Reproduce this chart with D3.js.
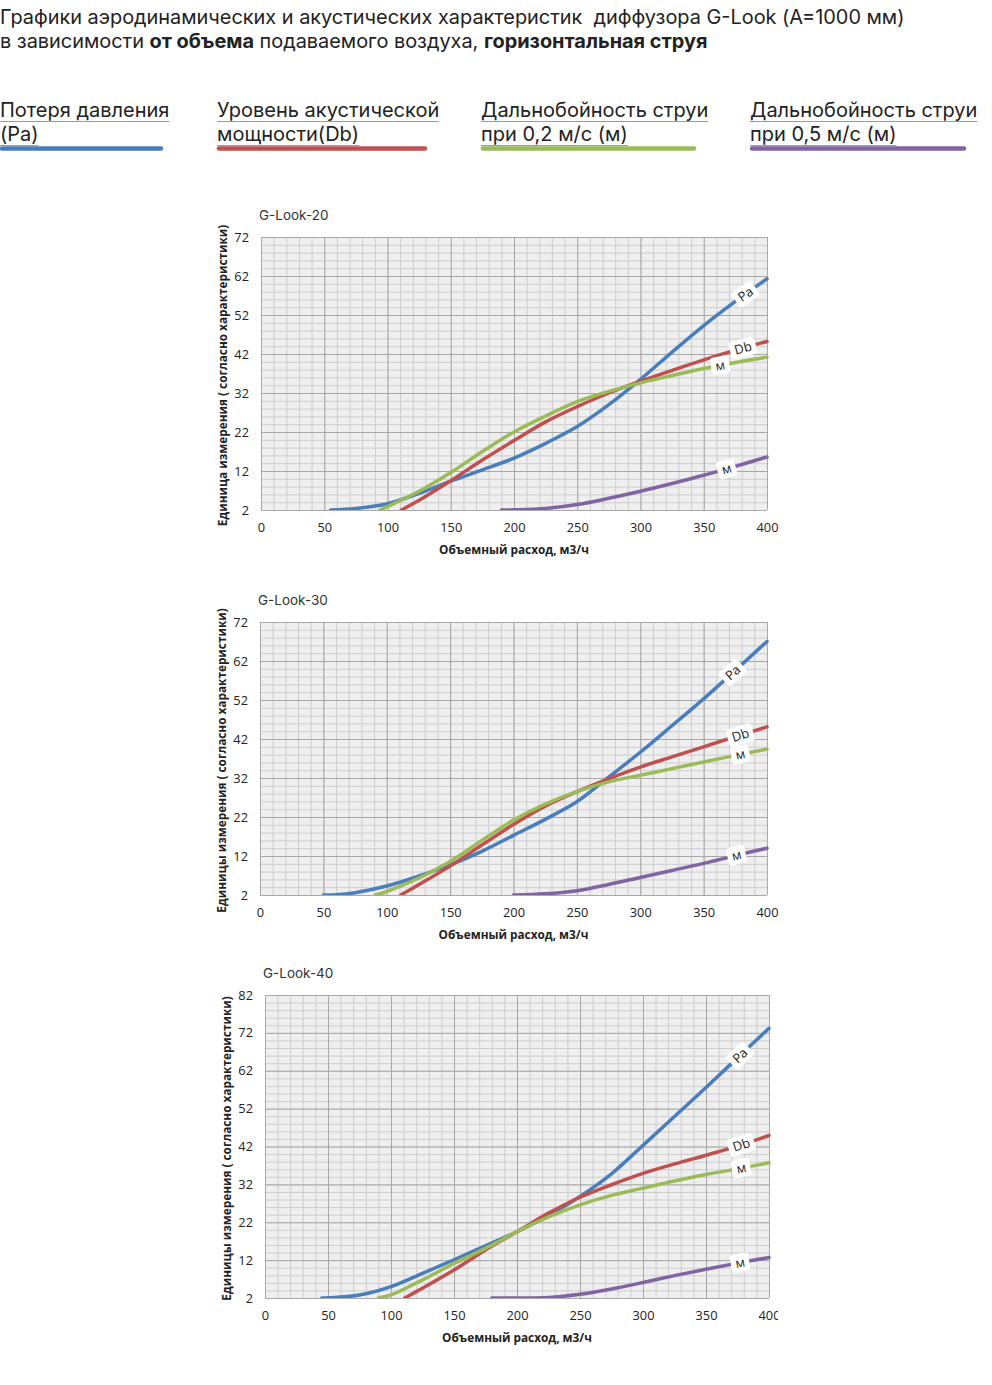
<!DOCTYPE html>
<html>
<head>
<meta charset="utf-8">
<script src="https://cdn.jsdelivr.net/npm/d3@7"></script>
<style>
  body { margin: 0; background: #fff; }
  svg { display: block; }
</style>
</head>
<body>
<div id="chart"></div>
<script>

// ---- data ----
var flowTicks   = [0, 50, 100, 150, 200, 250, 300, 350, 400];
var ticks72     = [2, 12, 22, 32, 42, 52, 62, 72];
var ticks82     = [2, 12, 22, 32, 42, 52, 62, 72, 82];

var legendNames = [["Потеря давления", "(Pa)"],
                   ["Уровень акустической", "мощности(Db)"],
                   ["Дальнобойность струи", "при 0,2 м/с (м)"],
                   ["Дальнобойность струи", "при 0,5 м/с (м)"]];
var curveLabels = ["Pa", "Db", "м", "м"];
var colors      = ["#4a7ebb", "#c0504d", "#9bbb59", "#8064a2"];

// G-Look-20  [flow m3/h, value]
var look20Pa  = [[55,2],[75,2.4],[100,3.6],[125,6.3],[150,9.4],[175,12.3],[200,15.3],[225,19.1],[250,23.4],[275,29],[300,35.5],[325,42.5],[350,49.3],[375,55.5],[400,61.3]];
var look20Db  = [[111,2],[125,4.5],[150,9.5],[175,14.8],[200,19.8],[225,24.6],[250,28.5],[275,32],[300,35],[325,37.8],[350,40.5],[375,43],[400,45.2]];
var look20M02 = [[94,2],[100,2.9],[125,6.8],[150,11.6],[175,17],[200,22],[225,26.1],[250,29.8],[275,32.4],[300,34.6],[325,36.5],[350,38.3],[375,39.8],[400,41.2]];
var look20M05 = [[190,2],[200,2.05],[225,2.4],[250,3.4],[275,5],[300,6.8],[325,8.8],[350,10.9],[375,13.2],[400,15.6]];

// G-Look-30
var look30Pa  = [[50,2],[60,2.05],[75,2.6],[100,4.3],[125,6.8],[150,9.7],[175,13.2],[200,17.3],[225,21.4],[250,25.9],[275,32.2],[300,38.6],[325,45.4],[350,52.3],[375,59.6],[400,67]];
var look30Db  = [[111,2],[125,4.6],[150,9.4],[175,14.8],[200,20.1],[225,24.8],[250,28.5],[275,31.8],[300,34.8],[325,37.4],[350,40],[375,42.6],[400,45.1]];
var look30M02 = [[91,2],[100,2.9],[125,6.3],[150,10.6],[175,16],[200,21.2],[225,25.3],[250,28.5],[275,31],[300,32.7],[325,34.4],[350,36.1],[375,37.8],[400,39.4]];
var look30M05 = [[200,2],[225,2.3],[250,3.1],[275,4.7],[300,6.5],[325,8.3],[350,10.1],[375,12.1],[400,14]];

// G-Look-40
var look40Pa  = [[45,2],[50,2.05],[75,2.8],[100,5],[125,8.5],[150,12.1],[175,15.8],[200,19.5],[225,23.8],[250,28.8],[275,34.8],[300,42.3],[325,49.9],[350,57.6],[375,65.4],[400,73.2]];
var look40Db  = [[111,2],[125,4.6],[150,9.4],[175,14.7],[200,19.5],[225,24.4],[250,28.6],[275,31.9],[300,34.9],[325,37.4],[350,39.7],[375,42.1],[400,44.9]];
var look40M02 = [[90,2],[100,2.8],[125,6.8],[150,11.1],[175,15.1],[200,19.5],[225,23.4],[250,26.6],[275,29.1],[300,31],[325,32.9],[350,34.6],[375,36.1],[400,37.7]];
var look40M05 = [[180,2],[200,2.02],[225,2.15],[250,3],[275,4.4],[300,6.1],[325,7.9],[350,9.6],[375,11.2],[400,12.7]];

// where the inline curve labels sit (flow value)
var look20LabelAt = [383, 381, 363, 368];
var look30LabelAt = [373, 379, 379, 376];
var look40LabelAt = [377, 378, 378, 377];


var svg = d3.select("#chart").append("svg")
    .attr("width", 992)
    .attr("height", 1385);

var headFont = "Inter, 'Noto Sans', sans-serif";
var chartFont = "'Open Sans', 'Liberation Sans', sans-serif";

// ---- header ----
svg.append("text")
    .attr("x", 0).attr("y", 24)
    .attr("font-family", headFont).attr("font-size", 19.9).attr("fill", "#222")
    .style("white-space", "pre")
    .text("Графики аэродинамических и акустических характеристик  диффузора G-Look (А=1000 мм)");

var line2 = svg.append("text")
    .attr("x", 0).attr("y", 48)
    .attr("font-family", headFont).attr("font-size", 19.9).attr("fill", "#222");
line2.append("tspan").text("в зависимости ");
line2.append("tspan").attr("font-weight", "bold").text("от объема");
line2.append("tspan").text(" подаваемого воздуха, ");
line2.append("tspan").attr("font-weight", "bold").text("горизонтальная струя");

// ---- legend ----
var legendX   = [0, 217, 481, 750];
var legendBar = [163, 210, 215, 216];

legendNames.forEach(function(lines, i) {
  var g = svg.append("g").attr("transform", "translate(" + legendX[i] + ",0)");
  lines.forEach(function(t, j) {
    var txt = g.append("text")
        .attr("x", 0).attr("y", 117 + j * 24)
        .attr("font-family", headFont).attr("font-size", 20).attr("fill", "#222")
        .text(t);
    var w = txt.node().getComputedTextLength();
    g.append("line")
        .attr("x1", 0).attr("x2", w)
        .attr("y1", 121.5 + j * 24).attr("y2", 121.5 + j * 24)
        .attr("stroke", "#9a9a9a").attr("stroke-width", 1);
  });
  g.append("line")
      .attr("x1", 2).attr("x2", legendBar[i] - 2)
      .attr("y1", 148.5).attr("y2", 148.5)
      .attr("stroke", colors[i]).attr("stroke-width", 4.5)
      .attr("stroke-linecap", "round");
});


// ---- one chart ----
function drawChart(opt) {

  var left = opt.left, right = opt.right, top = opt.top, bottom = opt.bottom;
  var width = right - left, height = bottom - top;
  var ymax = opt.yTicks[opt.yTicks.length - 1];

  var x = d3.scaleLinear().domain([0, 400]).range([0, width]);
  var y = d3.scaleLinear().domain([2, ymax]).range([height, 0]);

  var g = svg.append("g").attr("transform", "translate(" + left + "," + top + ")");

  svg.append("text")
      .attr("x", left - 2).attr("y", top - 17)
      .attr("font-family", headFont).attr("font-size", 13.5).attr("fill", "#333")
      .text(opt.title);

  g.append("rect")
      .attr("width", width).attr("height", height)
      .attr("fill", "#efefef");

  // minor grid
  g.append("g")
      .attr("class", "minor")
      .call(d3.axisBottom(x).tickValues(d3.range(0, 401, 10)).tickSize(height).tickFormat(""))
      .call(function(a) { a.select(".domain").remove(); });
  g.append("g")
      .attr("class", "minor")
      .call(d3.axisLeft(y).tickValues(d3.range(2, ymax + 0.1, 2)).tickSize(-width).tickFormat(""))
      .call(function(a) { a.select(".domain").remove(); });
  g.selectAll(".minor line").attr("stroke", "#cdcdcd").attr("stroke-width", 1);

  // major grid
  g.append("g")
      .attr("class", "major")
      .call(d3.axisBottom(x).tickValues(flowTicks).tickSize(height).tickFormat(""))
      .call(function(a) { a.select(".domain").remove(); });
  g.append("g")
      .attr("class", "major")
      .call(d3.axisLeft(y).tickValues(opt.yTicks).tickSize(-width).tickFormat(""))
      .call(function(a) { a.select(".domain").remove(); });
  g.selectAll(".major line").attr("stroke", "#a8a8a8").attr("stroke-width", 1);

  // tick labels
  var clipId = "tk" + opt.id;
  svg.append("clipPath").attr("id", clipId)
    .append("rect").attr("x", -40).attr("y", -20).attr("width", opt.labelClip - left + 40).attr("height", height + 60);

  var xAxis = g.append("g")
      .attr("transform", "translate(0," + height + ")")
      .attr("clip-path", "url(#" + clipId + ")")
      .call(d3.axisBottom(x).tickValues(flowTicks).tickSize(0).tickPadding(13));
  var yAxis = g.append("g")
      .call(d3.axisLeft(y).tickValues(opt.yTicks).tickSize(0).tickPadding(12));
  [xAxis, yAxis].forEach(function(a) {
    a.select(".domain").remove();
    a.selectAll("text")
        .attr("font-family", chartFont).attr("font-size", 12.8).attr("fill", "#222");
  });

  svg.append("text")
      .attr("x", left + width / 2).attr("y", bottom + 44)
      .attr("text-anchor", "middle")
      .attr("font-family", chartFont).attr("font-size", 11.8).attr("font-weight", "bold").attr("fill", "#222")
      .text("Объемный расход, м3/ч");

  svg.append("text")
      .attr("transform", "translate(" + (left - 34) + "," + (top + height / 2 + 2) + ") rotate(-90)")
      .attr("text-anchor", "middle")
      .attr("font-family", chartFont).attr("font-size", 11.8).attr("font-weight", "bold").attr("fill", "#222")
      .text(opt.yTitle);

  // curves
  var plotClip = "pc" + opt.id;
  svg.append("clipPath").attr("id", plotClip)
    .append("rect").attr("x", 0).attr("y", -3).attr("width", width + 2).attr("height", height + 3);

  var line = d3.line()
      .x(function(d) { return x(d[0]); })
      .y(function(d) { return y(d[1]); })
      .curve(d3.curveCatmullRom.alpha(0.5));

  var curves = g.append("g").attr("clip-path", "url(#" + plotClip + ")");
  opt.series.forEach(function(s, i) {
    curves.append("path")
        .datum(s)
        .attr("d", line)
        .attr("fill", "none")
        .attr("stroke", colors[i])
        .attr("stroke-width", 3.5)
        .attr("stroke-linecap", "round");
  });

  // inline labels on the curves
  var bis = d3.bisector(function(d) { return d[0]; }).left;
  function valueAt(s, fx) {
    var k = Math.max(1, Math.min(s.length - 1, bis(s, fx)));
    var a = s[k - 1], b = s[k];
    var t = (fx - a[0]) / (b[0] - a[0]);
    return a[1] + t * (b[1] - a[1]);
  }

  opt.series.forEach(function(s, i) {
    var fx = opt.labelAt[i];
    var px = x(fx), py = y(valueAt(s, fx));
    var dx = x(fx + 6) - x(fx - 6);
    var dy = y(valueAt(s, fx + 6)) - y(valueAt(s, fx - 6));
    var ang = Math.atan2(dy, dx) * 180 / Math.PI;

    var lg = g.append("g").attr("transform", "translate(" + px + "," + py + ") rotate(" + ang + ")");
    var t = lg.append("text")
        .attr("text-anchor", "middle").attr("dy", "0.35em")
        .attr("font-family", chartFont).attr("font-size", 13).attr("fill", "#222")
        .text(curveLabels[i]);
    var w = t.node().getComputedTextLength() + 9;
    lg.insert("rect", "text")
        .attr("x", -w / 2).attr("y", -9).attr("width", w).attr("height", 18)
        .attr("rx", 3).attr("fill", "#fff");
  });
}

drawChart({ id: 1, title: "G-Look-20", left: 261, right: 767, top: 237, bottom: 510,
            yTicks: ticks72, labelAt: look20LabelAt, labelClip: 800,
            yTitle: "Единица измерения ( согласно характеристики)",
            series: [look20Pa, look20Db, look20M02, look20M05] });

drawChart({ id: 2, title: "G-Look-30", left: 260, right: 767, top: 622, bottom: 895,
            yTicks: ticks72, labelAt: look30LabelAt, labelClip: 800,
            yTitle: "Единицы измерения ( согласно характеристики)",
            series: [look30Pa, look30Db, look30M02, look30M05] });

drawChart({ id: 3, title: "G-Look-40", left: 265, right: 769, top: 995, bottom: 1298,
            yTicks: ticks82, labelAt: look40LabelAt, labelClip: 778,
            yTitle: "Единицы измерения ( согласно характеристики)",
            series: [look40Pa, look40Db, look40M02, look40M05] });

</script>
</body>
</html>
